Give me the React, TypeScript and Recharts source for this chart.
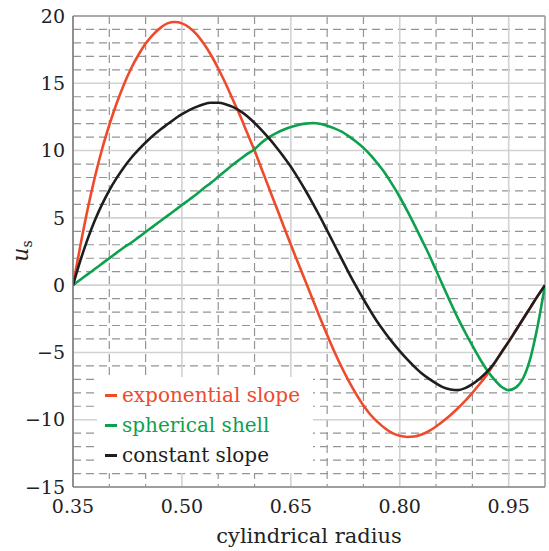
import React from 'react';
import { LineChart, Line, XAxis, YAxis, CartesianGrid, ReferenceLine, Legend, Label } from 'recharts';

const radius = [
  0.35, 0.36, 0.37, 0.38, 0.39, 0.40, 0.41, 0.42, 0.43, 0.44, 0.45, 0.46, 0.47, 0.48, 0.49,
  0.50, 0.51, 0.52, 0.53, 0.54, 0.55, 0.56, 0.57, 0.58, 0.59, 0.60, 0.61, 0.62, 0.63, 0.64,
  0.65, 0.66, 0.67, 0.68, 0.69, 0.70, 0.71, 0.72, 0.73, 0.74, 0.75, 0.76, 0.77, 0.78, 0.79,
  0.80, 0.81, 0.82, 0.83, 0.84, 0.85, 0.86, 0.87, 0.88, 0.89, 0.90, 0.91, 0.92, 0.93, 0.94,
  0.95, 0.96, 0.97, 0.98, 0.99, 1.00,
];

const exponentialSlope = [
  0, 2.9, 5.6, 8.0, 10.1, 11.9, 13.5, 14.9, 16.1, 17.1, 17.95, 18.6, 19.1, 19.45, 19.55,
  19.45, 19.15, 18.65, 17.95, 17.1, 16.1, 15.0, 13.8, 12.6, 11.3, 10.0, 8.6, 7.2, 5.8, 4.4,
  3.0, 1.65, 0.3, -1.05, -2.4, -3.7, -4.95, -6.1, -7.15, -8.1, -8.95, -9.65, -10.2, -10.65, -11.0,
  -11.2, -11.28, -11.25, -11.1, -10.85, -10.5, -10.1, -9.65, -9.15, -8.6, -8.0, -7.35, -6.65, -5.85, -5.0,
  -4.2, -3.35, -2.5, -1.65, -0.8, 0,
];

const sphericalShell = [
  0, 0.4, 0.8, 1.2, 1.6, 2.0, 2.4, 2.8, 3.15, 3.55, 3.95, 4.35, 4.75, 5.15, 5.55,
  5.95, 6.35, 6.75, 7.2, 7.6, 8.05, 8.5, 8.95, 9.35, 9.75, 10.1, 10.6, 11.0, 11.3, 11.55,
  11.75, 11.9, 12.0, 12.05, 12.0, 11.85, 11.65, 11.4, 11.05, 10.65, 10.2, 9.65, 9.0, 8.3, 7.45,
  6.55, 5.55, 4.5, 3.4, 2.3, 1.1, -0.1, -1.3, -2.45, -3.5, -4.5, -5.45, -6.3, -7.0, -7.55,
  -7.8, -7.6, -6.9, -5.4, -3.0, 0,
];

const constantSlope = [
  0, 1.8, 3.4, 4.8, 6.0, 7.05, 7.95, 8.75, 9.45, 10.05, 10.6, 11.1, 11.55, 11.95, 12.35,
  12.7, 13.0, 13.25, 13.45, 13.55, 13.55, 13.45, 13.25, 12.95, 12.55, 12.05, 11.5, 10.9, 10.25, 9.55,
  8.8, 7.95, 7.05, 6.1, 5.1, 4.05, 3.0, 1.95, 0.9, -0.1, -1.05, -1.95, -2.8, -3.55, -4.25,
  -4.9, -5.5, -6.05, -6.55, -6.95, -7.3, -7.6, -7.75, -7.8, -7.65, -7.35, -6.95, -6.45, -5.8, -5.0,
  -4.2, -3.35, -2.5, -1.65, -0.8, 0,
];

const xTicks = [0.35, 0.5, 0.65, 0.8, 0.95];
const xMinor = [0.4, 0.45, 0.55, 0.6, 0.7, 0.75, 0.85, 0.9];
const yTicks = [-15, -10, -5, 0, 5, 10, 15, 20];
const yMinor = [
  -14, -13, -12, -11, -9, -8, -7, -6, -4, -3, -2, -1, 1, 2, 3, 4,
  6, 7, 8, 9, 11, 12, 13, 14, 16, 17, 18, 19,
];

const seriesNames = ['exponential slope', 'spherical shell', 'constant slope'];
const seriesKeys = ['exp', 'sph', 'con'];
const seriesColors = ['#EE4A2B', '#0DA14E', '#1E1E1E'];

const data = radius.map((r, i) => ({
  r,
  exp: exponentialSlope[i],
  sph: sphericalShell[i],
  con: constantSlope[i],
}));

const FONT = 'DejaVu Serif';

const fmtY = (v: number) => (v < 0 ? '\u2212' + Math.abs(v) : String(v));

const renderLegend = () => (
  <div
    style={{
      background: '#fff',
      width: 216,
      height: 96,
      paddingTop: 3,
      paddingLeft: 8,
      boxSizing: 'border-box',
      fontFamily: FONT,
      fontSize: 20,
    }}
  >
    {seriesNames.map((n, i) => (
      <div key={n} style={{ height: 30, lineHeight: '30px', whiteSpace: 'nowrap', color: seriesColors[i] }}>
        <span
          style={{
            display: 'inline-block',
            width: 12,
            height: 2.5,
            background: seriesColors[i],
            verticalAlign: 'middle',
            marginRight: 5,
            position: 'relative',
            top: -1,
          }}
        />
        {n}
      </div>
    ))}
  </div>
);

const YLabel = () => (
  <text x={28} y={251} transform="rotate(-90 28 251)" textAnchor="middle" fontFamily={FONT} fill="#222">
    <tspan fontStyle="italic" fontSize={22}>u</tspan>
    <tspan fontSize={14} dy={4}>s</tspan>
  </text>
);

export default function App() {
  return (
    <div style={{ position: 'absolute', left: 0, top: 0, width: 549, height: 551, background: '#fff' }}>
      <LineChart width={549} height={551} data={data} margin={{ top: 16, right: 4, bottom: 0, left: 0 }}>
        <CartesianGrid
          horizontalValues={yMinor}
          verticalValues={xMinor}
          stroke="#949494"
          strokeDasharray="8 5"
          strokeWidth={1.2}
        />
        <CartesianGrid
          horizontalValues={yTicks}
          verticalValues={xTicks}
          stroke="#d2d2d2"
          strokeWidth={1.6}
        />
        <XAxis
          dataKey="r"
          type="number"
          domain={[0.35, 1.0]}
          ticks={xTicks}
          interval={0}
          allowDataOverflow
          tickFormatter={(v: number) => v.toFixed(2)}
          height={64}
          tickLine={false}
          tickMargin={7}
          axisLine={{ stroke: '#888', strokeWidth: 1.5 }}
          tick={{ fontFamily: FONT, fontSize: 19, fill: '#222' }}
        >
          <Label
            value="cylindrical radius"
            position="insideBottom"
            offset={8}
            style={{ fontFamily: FONT, fontSize: 21, fill: '#222' }}
          />
        </XAxis>
        <YAxis
          type="number"
          domain={[-15, 20]}
          ticks={yTicks}
          interval={0}
          allowDataOverflow
          tickFormatter={fmtY}
          width={73}
          tickLine={false}
          axisLine={{ stroke: '#777', strokeWidth: 1.5 }}
          tick={{ fontFamily: FONT, fontSize: 19, fill: '#222' }}
        >
          <Label content={<YLabel />} />
        </YAxis>
        <ReferenceLine y={20} stroke="#999" strokeWidth={1.5} />
        <ReferenceLine x={1.0} stroke="#999" strokeWidth={1.5} />
        <Legend
          layout="vertical"
          align="center"
          verticalAlign="middle"
          content={renderLegend}
          wrapperStyle={{ left: 97, top: 377, width: 216, height: 96 }}
        />
        {seriesKeys.map((k, i) => (
          <Line
            key={k}
            dataKey={k}
            name={seriesNames[i]}
            stroke={seriesColors[i]}
            strokeWidth={2.6}
            dot={false}
            type="monotone"
            isAnimationActive={false}
          />
        ))}
      </LineChart>
    </div>
  );
}
